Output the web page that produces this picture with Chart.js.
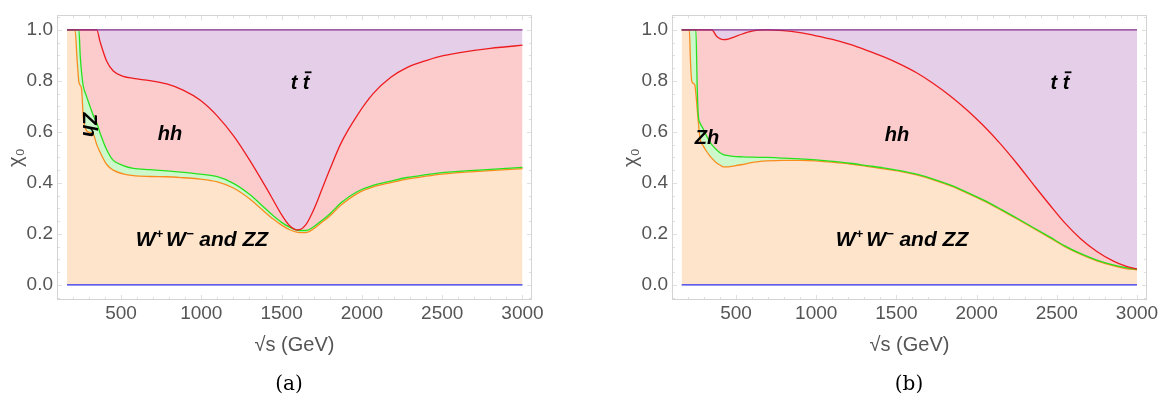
<!DOCTYPE html>
<html>
<head>
<meta charset="utf-8">
<script src="https://cdn.jsdelivr.net/npm/chart.js@4.4.1/dist/chart.umd.min.js"></script>
<style>
  body { margin: 0; width: 1169px; height: 402px; background: #fff; position: relative; overflow: hidden; }
  canvas { position: absolute; top: 0; }
  #chart-a { left: 0; }
  #chart-b { left: 584px; }
  .caption { position: absolute; top: 370px; width: 60px; line-height: 26px; text-align: center;
             font-size: 20px; font-family: "DejaVu Serif", "Liberation Serif", serif; color: #000; }
</style>
</head>
<body>
<canvas id="chart-a" width="584" height="402"></canvas>
<canvas id="chart-b" width="585" height="402"></canvas>
<div class="caption" style="left:259px">(a)</div>
<div class="caption" style="left:879px">(b)</div>
<script>
"use strict"

// sqrt(s) in GeV, and the cumulative chi_0 boundaries stacked from the bottom:
// W+W- and ZZ, then Zh, then hh; whatever is left up to 1 is t tbar.
const sqrtS_a = [164, 205, 214, 226, 238, 246, 255, 265, 282, 307, 330, 349, 370, 411, 452,
  514, 577, 680, 785, 890, 992, 1100, 1200, 1300, 1400, 1450, 1500, 1550, 1600, 1650, 1700,
  1750, 1800, 1870, 1970, 2070, 2180, 2280, 2400, 2500, 2600, 2700, 2800, 2900, 3000];
const wwzz_a = [1, 1, 1, 0.89, 0.795, 0.783, 0.765, 0.66, 0.608, 0.598, 0.588, 0.55, 0.52,
  0.472, 0.45, 0.435, 0.428, 0.425, 0.424, 0.42, 0.415, 0.404, 0.38, 0.338, 0.283, 0.257,
  0.234, 0.216, 0.206, 0.205, 0.22, 0.245, 0.27, 0.313, 0.358, 0.384, 0.401, 0.415, 0.426,
  0.434, 0.44, 0.444, 0.448, 0.452, 0.456];
const zh_a = [1, 1, 1, 1, 1, 0.9, 0.83, 0.78, 0.745, 0.7, 0.66, 0.635, 0.595, 0.53, 0.488,
  0.468, 0.457, 0.452, 0.447, 0.441, 0.434, 0.424, 0.398, 0.355, 0.298, 0.27, 0.245, 0.226,
  0.214, 0.213, 0.228, 0.252, 0.278, 0.322, 0.365, 0.39, 0.407, 0.421, 0.432, 0.44, 0.445,
  0.449, 0.453, 0.457, 0.461];
const hh_a = [1, 1, 1, 1, 1, 1, 1, 1, 1, 1, 1, 1, 0.953, 0.877, 0.839, 0.818, 0.81, 0.801,
  0.788, 0.763, 0.725, 0.662, 0.585, 0.49, 0.385, 0.33, 0.275, 0.232, 0.215, 0.235, 0.295,
  0.373, 0.452, 0.556, 0.664, 0.75, 0.814, 0.852, 0.88, 0.898, 0.91, 0.92, 0.928, 0.934, 0.94];

const sqrtS_b = [161, 200, 209, 216, 224, 235, 244, 250, 258, 265, 276, 296, 317, 338, 349,
  379, 400, 421, 452, 483, 540, 587, 640, 691, 795, 899, 1000, 1107, 1211, 1315, 1418, 1522,
  1626, 1730, 1834, 1938, 2042, 2150, 2250, 2350, 2458, 2550, 2650, 2750, 2850, 2930, 3000];
const wwzz_b = [1, 1, 1, 0.88, 0.8, 0.79, 0.782, 0.75, 0.69, 0.64, 0.573, 0.545, 0.523, 0.505,
  0.497, 0.478, 0.47, 0.463, 0.463, 0.466, 0.472, 0.478, 0.483, 0.486, 0.488, 0.488, 0.486,
  0.48, 0.474, 0.465, 0.455, 0.445, 0.431, 0.412, 0.389, 0.361, 0.33, 0.294, 0.259, 0.223,
  0.184, 0.15, 0.119, 0.094, 0.075, 0.064, 0.059];
const zh_b = [1, 1, 1, 1, 1, 1, 1, 1, 0.78, 0.665, 0.635, 0.611, 0.583, 0.56, 0.55, 0.53,
  0.518, 0.511, 0.507, 0.504, 0.502, 0.501, 0.5, 0.5, 0.497, 0.494, 0.49, 0.484, 0.477, 0.468,
  0.459, 0.448, 0.434, 0.415, 0.392, 0.364, 0.333, 0.297, 0.262, 0.226, 0.187, 0.153, 0.122,
  0.097, 0.078, 0.067, 0.061];
const hh_b = [1, 1, 1, 1, 1, 1, 1, 1, 1, 1, 1, 1, 1, 1, 1, 0.975, 0.966, 0.962, 0.964, 0.971,
  0.984, 0.993, 0.999, 1, 0.997, 0.989, 0.977, 0.962, 0.943, 0.92, 0.895, 0.866, 0.832, 0.79,
  0.742, 0.687, 0.625, 0.552, 0.477, 0.397, 0.312, 0.243, 0.18, 0.131, 0.094, 0.073, 0.062];

// flat bounding lines at chi_0 = 0 and 1
const ends_a = [164, 3000];
const ends_b = [161, 3000];
const floorLine = [0, 0];
const ceilLine = [1, 1];

const xTicks = [500, 1000, 1500, 2000, 2500, 3000];
const yTicks = [0, 0.2, 0.4, 0.6, 0.8, 1.0];

const SANS = "'Liberation Sans', Arial, sans-serif";
const GREY = "#555";

function points(xs, ys) {
  return xs.map((x, i) => ({ x: x, y: ys[i] }));
}

// light frame with small inward ticks all round
const frame = {
  id: "frame",
  afterDraw(chart) {
    const { ctx, chartArea: a, scales: { x, y } } = chart;
    ctx.save();
    ctx.lineWidth = 1;
    ctx.strokeStyle = "#e0e0e0";
    ctx.beginPath();
    for (let v = 200; v <= 3000; v += 100) {
      const px = Math.round(x.getPixelForValue(v)) + 0.5;
      const len = v % 500 === 0 ? 5 : 3;
      ctx.moveTo(px, a.bottom); ctx.lineTo(px, a.bottom - len);
      ctx.moveTo(px, a.top); ctx.lineTo(px, a.top + len);
    }
    for (let i = -1; i <= 21; i++) {
      const py = Math.round(y.getPixelForValue(i * 0.05)) + 0.5;
      const len = i % 4 === 0 ? 5 : 3;
      ctx.moveTo(a.left, py); ctx.lineTo(a.left + len, py);
      ctx.moveTo(a.right, py); ctx.lineTo(a.right - len, py);
    }
    ctx.stroke();
    ctx.strokeStyle = "#d4d4d4";
    ctx.strokeRect(Math.round(a.left) + 0.5, Math.round(a.top) + 0.5,
      Math.round(a.width) - 1, Math.round(a.height) - 1);
    ctx.restore();
  }
};

// bold italic channel names, with super-scripts and the bar over t
const regionLabels = {
  id: "regionLabels",
  afterDatasetsDraw(chart, args, opts) {
    const { ctx, scales: { x, y } } = chart;
    ctx.save();
    ctx.fillStyle = "#000";
    ctx.textBaseline = "alphabetic";
    for (const item of opts.items) {
      const size = item.size || opts.size;
      const parts = item.parts.map(p => {
        const s = p.sup ? size * 0.62 : size;
        ctx.font = "italic bold " + s + "px " + SANS;
        return Object.assign({ s: s, w: ctx.measureText(p.t).width + (p.gap || 0) }, p);
      });
      const total = parts.reduce((acc, p) => acc + p.w, 0);
      ctx.save();
      ctx.translate(x.getPixelForValue(item.x), y.getPixelForValue(item.y));
      if (item.rotate) ctx.rotate(item.rotate);
      let cx = -total / 2;
      const base = size * 0.36;
      for (const p of parts) {
        ctx.font = "italic bold " + p.s + "px " + SANS;
        ctx.fillText(p.t, cx, base - (p.sup ? size * 0.42 : 0));
        if (p.bar) ctx.fillRect(cx + 2, base - size * 0.9, p.w, 1.8);
        cx += p.w;
      }
      ctx.restore();
    }
    ctx.restore();
  }
};

const ttbar = [{ t: "t" }, { t: " " }, { t: "t", bar: true }];
const wwzz = [{ t: "W" }, { t: "+", sup: true, gap: 3 }, { t: "W" }, { t: "\u2212", sup: true },
  { t: " and ZZ" }];

function makeChart(id, p) {
  const canvas = document.getElementById(id);
  return new Chart(canvas, {
    type: "line",
    data: {
      datasets: [
        { data: points(p.ends, floorLine), borderColor: "rgb(45,45,235)", fill: false, order: 0 },
        { data: points(p.s, p.wwzz), borderColor: "rgb(250,140,30)",
          backgroundColor: "rgb(253,228,203)", fill: "-1", order: 3 },
        { data: points(p.s, p.zh), borderColor: "rgb(40,225,30)",
          backgroundColor: "rgb(204,248,204)", fill: "-1", order: 2 },
        { data: points(p.s, p.hh), borderColor: "rgb(238,28,32)",
          backgroundColor: "rgb(252,203,204)", fill: "-1", order: 1 },
        { data: points(p.ends, ceilLine), borderColor: "rgb(128,40,140)",
          backgroundColor: "rgb(228,206,232)", fill: "-1", order: 0 }
      ]
    },
    options: {
      responsive: false,
      animation: false,
      devicePixelRatio: 1,
      layout: { padding: p.padding },
      elements: {
        point: { radius: 0 },
        line: { borderWidth: 1.3, cubicInterpolationMode: "monotone" }
      },
      plugins: {
        legend: { display: false },
        tooltip: { enabled: false },
        filler: { drawTime: "beforeDatasetsDraw" },
        regionLabels: { size: 20, items: p.labels }
      },
      scales: {
        x: {
          type: "linear",
          min: p.xMin,
          max: p.xMax,
          grid: { display: false, drawTicks: false },
          border: { display: false },
          afterBuildTicks: s => { s.ticks = xTicks.map(v => ({ value: v })); },
          afterFit: s => { s.height = 102; },
          ticks: { color: GREY, font: { family: SANS, size: 19 }, padding: 2,
                   autoSkip: false, maxRotation: 0, callback: v => String(v) },
          title: { display: true, text: "\u221As (GeV)", color: GREY,
                   font: { family: SANS, size: 20 }, padding: { top: 0, bottom: 45 } }
        },
        y: {
          type: "linear",
          min: -0.0596,
          max: 1.057,
          grid: { display: false, drawTicks: false },
          border: { display: false },
          afterBuildTicks: s => { s.ticks = yTicks.map(v => ({ value: v })); },
          afterFit: s => { s.width = 57; },
          ticks: { color: GREY, font: { family: SANS, size: 19 }, padding: 4,
                   callback: v => v.toFixed(1) },
          title: { display: true, text: "\u03C7\u2080", color: GREY,
                   font: { family: SANS, size: 20 }, padding: { top: 4, bottom: 0 } }
        }
      }
    },
    plugins: [frame, regionLabels]
  });
}

makeChart("chart-a", {
  s: sqrtS_a, wwzz: wwzz_a, zh: zh_a, hh: hh_a, ends: ends_a,
  xMin: 101.5, xMax: 3059.2,
  padding: { left: 0, right: 52, top: 6, bottom: 0 },
  labels: [
    { x: 1615, y: 0.795, parts: ttbar },
    { x: 805, y: 0.596, parts: [{ t: "hh" }] },
    { x: 310, y: 0.628, rotate: Math.PI / 2, parts: [{ t: "Zh" }] },
    { x: 1004, y: 0.18, size: 21, parts: wwzz }
  ]
});

makeChart("chart-b", {
  s: sqrtS_b, wwzz: wwzz_b, zh: zh_b, hh: hh_b, ends: ends_b,
  xMin: 101, xMax: 3062.4,
  padding: { left: 31, right: 22, top: 6, bottom: 0 },
  labels: [
    { x: 2520, y: 0.795, parts: ttbar },
    { x: 1504, y: 0.594, parts: [{ t: "hh" }] },
    { x: 319, y: 0.582, parts: [{ t: "Zh" }] },
    { x: 1535, y: 0.18, size: 21, parts: wwzz }
  ]
});
</script>
</body>
</html>
